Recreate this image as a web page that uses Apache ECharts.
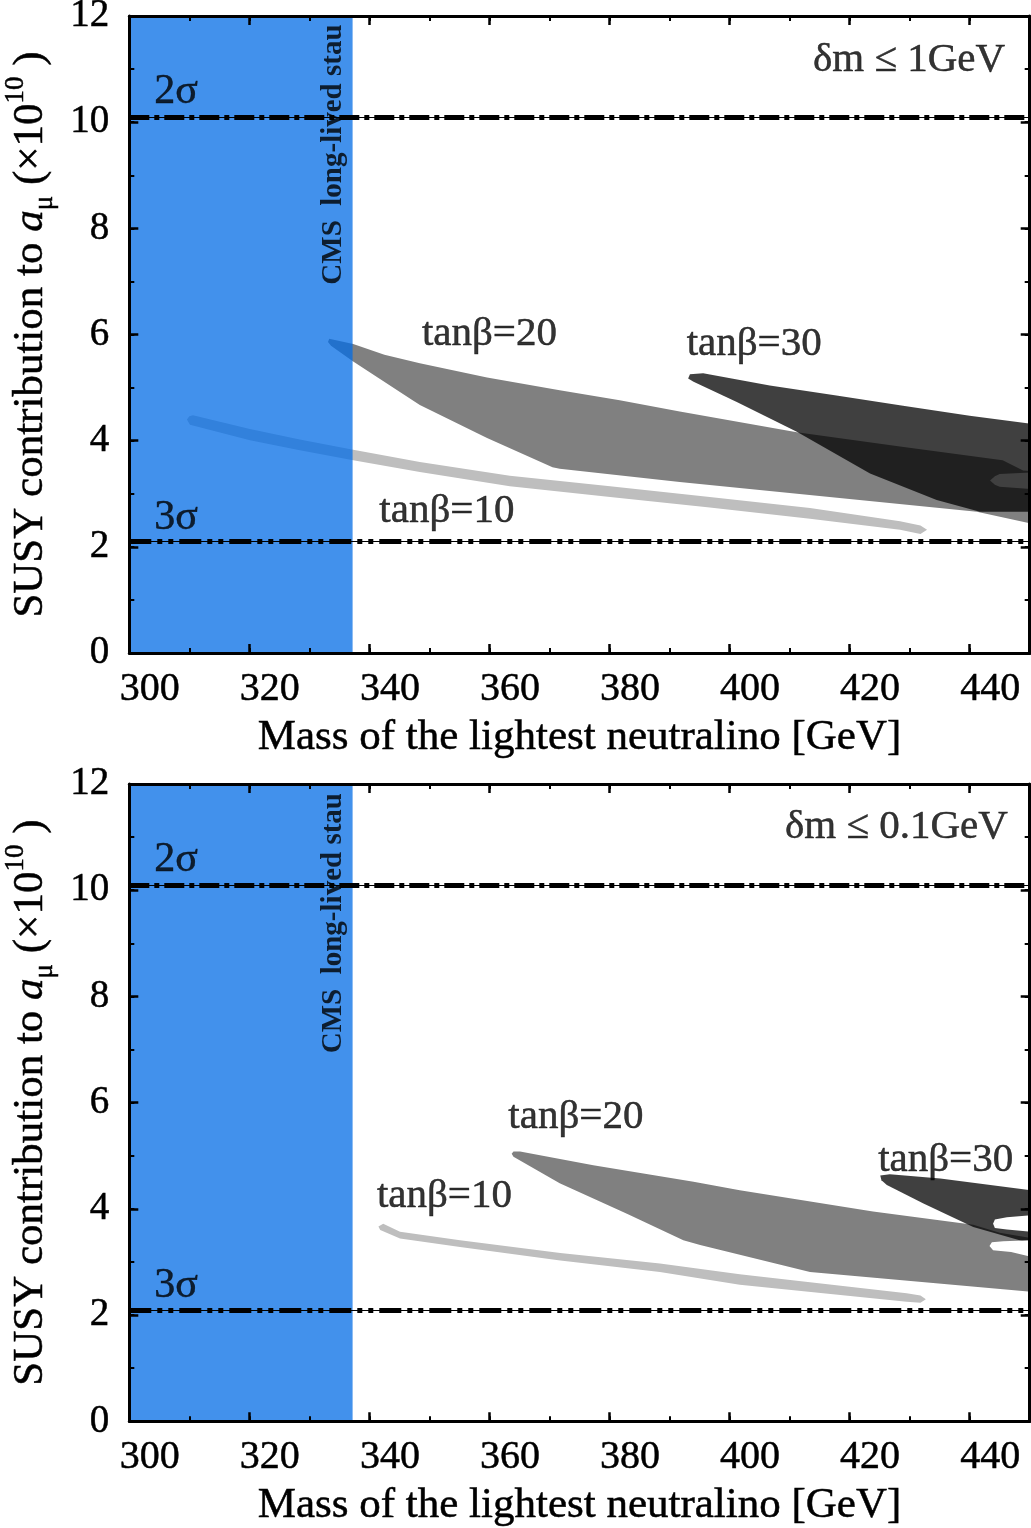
<!DOCTYPE html>
<html><head><meta charset="utf-8">
<script src="https://cdn.jsdelivr.net/npm/echarts@6/dist/echarts.min.js"></script>
<style>html,body{margin:0;padding:0;background:#fff}#c{width:1031px;height:1528px}</style>
</head><body><div id="c"></div>
<script>
// ---------------- data ----------------
const xRange = [300, 450];          // neutralino mass [GeV]
const xStep = 20, xMinorStep = 10;
const yRange = [0, 12];             // SUSY contribution to a_mu (x10^10)
const yStep = 2, yMinorStep = 1;
const sigmaLevels = [10.1, 2.1];
const sigmaNames = ['2σ', '3σ'];
const cmsLimit = 337.2;             // CMS long-lived stau bound
const panelTitles = ['δm ≤ 1GeV', 'δm ≤ 0.1GeV'];
const tanbNames = ['tanβ=10', 'tanβ=20', 'tanβ=30'];

// panel 1 (δm ≤ 1 GeV) regions: [mass, a_mu]
const p1Tanb10 = [[309.6,4.40],[310.0,4.46],[310.6,4.48],[320.1,4.22],[328.4,4.02],[337.3,3.83],[348.4,3.60],[363.4,3.34],[380.1,3.14],[396.7,2.94],[413.4,2.73],[428.4,2.48],[431.8,2.40],[432.9,2.32],[431.8,2.24],[428.4,2.32],[413.4,2.53],[396.7,2.74],[380.1,2.94],[363.4,3.14],[348.4,3.41],[337.3,3.63],[328.4,3.82],[320.1,4.01],[310.1,4.30]];
const p1Tanb20 = [[333.1,5.86],[333.3,5.92],[337.3,5.82],[342.5,5.62],[348.4,5.46],[359.6,5.19],[371.7,4.95],[381.7,4.76],[391.7,4.55],[411.2,4.16],[428.4,3.89],[445.5,3.63],[448.9,3.44],[452.5,3.41],[452.5,2.40],[450.2,2.44],[441.2,2.66],[391.7,3.22],[371.7,3.47],[370.5,3.50],[359.6,4.05],[348.4,4.67],[337.3,5.49],[333.6,5.79]];
const p1Tanb20Holes = [[[443.4,3.25],[444.2,3.33],[445.0,3.37],[450.2,3.40],[452.5,3.41],[452.5,3.09],[450.2,3.09],[445.0,3.13],[444.2,3.17]]];
const p1Tanb30 = [[393.4,5.25],[395.6,5.27],[406.7,5.04],[417.8,4.85],[428.9,4.66],[440.0,4.47],[450.2,4.32],[452.5,4.28],[452.5,2.66],[441.7,2.66],[434.5,2.88],[423.4,3.38],[411.2,4.17],[401.2,4.73],[394.0,5.11],[393.1,5.17]];
const p1Tanb30Holes = [];

// panel 2 (δm ≤ 0.1 GeV)
const p2Tanb10 = [[341.5,3.67],[342.3,3.72],[345.1,3.57],[355.1,3.41],[371.8,3.17],[388.4,2.97],[401.7,2.77],[415.6,2.59],[429.5,2.41],[431.8,2.37],[432.7,2.30],[431.8,2.23],[429.5,2.25],[415.6,2.41],[401.7,2.57],[388.4,2.81],[371.8,3.03],[355.1,3.28],[345.1,3.44],[341.8,3.60]];
const p2Tanb20 = [[363.7,5.04],[364.0,5.08],[365.1,5.08],[377.3,4.82],[394.0,4.51],[401.7,4.35],[423.9,3.95],[440.6,3.70],[445.0,3.55],[450.2,3.45],[452.5,3.41],[452.5,2.43],[450.2,2.44],[413.4,2.81],[395.1,3.32],[392.3,3.41],[382.9,3.91],[371.7,4.48],[364.0,4.98]];
const p2Tanb20Holes = [];
const p2Tanb30 = [[425.1,4.63],[426.7,4.65],[435.1,4.57],[450.2,4.35],[452.5,4.31],[452.5,3.30],[450.2,3.35],[440.6,3.66],[432.3,4.10],[426.2,4.45],[425.3,4.54]];
const p2Tanb30Holes = [
  [[443.9,3.72],[444.2,3.80],[446.2,3.84],[450.2,3.88],[452.5,3.90],[452.5,3.56],[450.2,3.57],[446.2,3.61],[444.2,3.64]],
  [[443.3,3.30],[443.7,3.37],[445.6,3.39],[450.2,3.41],[452.5,3.41],[452.5,3.09],[450.2,3.10],[446.9,3.19],[443.9,3.22]]
];

// annotation anchors [mass, a_mu]
const p1Notes = {sig:[[307.8,10.57],[307.8,2.55]], tanb:[[352.9,2.67],[360.0,6.01],[404.1,5.81]], title:[429.9,11.16], cms:[334.0,9.39]};
const p2Notes = {sig:[[307.8,10.57],[307.8,2.55]], tanb:[[352.5,4.23],[374.4,5.72],[436.0,4.91]], title:[427.8,11.18], cms:[334.0,9.38]};

// ---------------- styles ----------------
const FONT = "'Liberation Serif','Times New Roman','DejaVu Serif',serif";
const COL10 = '#bebebe', COL20 = '#808080', COL30 = 'rgba(0,0,0,0.75)', COLCMS = 'rgba(3,108,230,0.75)';
const dashStyles = [[20,5,5,5], [22,6,5,6,5,6]];
const grids = [
  {left:129.3, top:16, width:900.4, height:637, outerBoundsMode:'none', containLabel:false},
  {left:129.3, top:784, width:900.4, height:637.3, outerBoundsMode:'none', containLabel:false}
];
const INK = {textBorderColor:'#000', textBorderWidth:0.5};

function tickAxis(kind, g, pos, major, withLabels) {
  const isX = kind === 'x';
  const ax = {
    type:'value', gridIndex:g, position:pos,
    min: isX ? xRange[0] : yRange[0], max: isX ? xRange[1] : yRange[1],
    interval: isX ? (major ? xStep : xMinorStep) : (major ? yStep : yMinorStep),
    axisLine:{show: major, onZero:false, lineStyle:{color:'#000', width:3}},
    axisTick:{show:true, inside:true, length: major ? 9 : 5, lineStyle:{color:'#000', width: major ? 2.5 : 2}},
    splitLine:{show:false},
    axisLabel:{show:false},
    z: 10
  };
  if (withLabels) {
    if (isX) {
      ax.axisLabel = Object.assign({show:true, fontFamily:FONT, fontSize:40, color:'#000', margin:16, padding:[0,0,0,41], showMaxLabel:false}, INK);
      ax.name = 'Mass of the lightest neutralino [GeV]';
      ax.nameLocation = 'middle'; ax.nameGap = 63;
      ax.nameTextStyle = Object.assign({fontFamily:FONT, fontSize:43, color:'#000'}, INK);
    } else {
      ax.axisLabel = Object.assign({show:true, fontFamily:FONT, fontSize:39, color:'#000', margin:20, padding:[7,0,0,0]}, INK);
      ax.name = 'SUSY contribution to {it|a}{sub|μ} (×10{sup|10} )';
      ax.nameLocation = 'middle'; ax.nameGap = 67; ax.nameRotate = 90;
      ax.nameTextStyle = Object.assign({fontFamily:FONT, fontSize:43, color:'#000', lineHeight:56,
        rich:{
          it:Object.assign({fontFamily:FONT, fontSize:43, fontStyle:'italic', color:'#000', lineHeight:56}, INK),
          sub:Object.assign({fontFamily:FONT, fontSize:27, color:'#000', verticalAlign:'bottom', lineHeight:30}, INK),
          sup:Object.assign({fontFamily:FONT, fontSize:27, color:'#000', verticalAlign:'top', lineHeight:30}, INK)
        }}, INK);
    }
  }
  return ax;
}

const xAxes = [], yAxes = [];
[0,1].forEach(g => {
  xAxes.push(tickAxis('x', g, 'bottom', true, true));
  xAxes.push(tickAxis('x', g, 'bottom', false, false));
  xAxes.push(tickAxis('x', g, 'top', true, false));
  xAxes.push(tickAxis('x', g, 'top', false, false));
  yAxes.push(tickAxis('y', g, 'left', true, true));
  yAxes.push(tickAxis('y', g, 'left', false, false));
  yAxes.push(tickAxis('y', g, 'right', true, false));
  yAxes.push(tickAxis('y', g, 'right', false, false));
});

function polySeries(g, polys, fill, z) {
  return {
    type:'custom', xAxisIndex:g*4, yAxisIndex:g*4, z:z, clip:true, silent:true,
    data:[[xRange[0], yRange[0]]],
    renderItem: function(params, api) {
      return {type:'group', children: polys.map(poly => ({
        type:'polygon', shape:{points: poly.map(p => api.coord(p))}, style:{fill: fill}
      }))};
    }
  };
}

function panelSeries(g, t10, t20, t20holes, t30, t30holes, notes, title) {
  const s = [];
  s.push(polySeries(g, [t10], COL10, 2));
  s.push(polySeries(g, [t20], COL20, 3));
  if (t20holes.length) s.push(polySeries(g, t20holes, '#fff', 4));
  s.push(polySeries(g, [t30], COL30, 5));
  if (t30holes.length) s.push(polySeries(g, t30holes, '#fff', 6));
  s.push(polySeries(g, [[[xRange[0], yRange[0]], [cmsLimit, yRange[0]], [cmsLimit, yRange[1]], [xRange[0], yRange[1]]]], COLCMS, 7));
  s.push({
    type:'line', xAxisIndex:g*4, yAxisIndex:g*4, z:8, data:[], silent:true,
    markLine:{z:9, silent:true, symbol:['none','none'], label:{show:false}, animation:false,
      data: sigmaLevels.flatMap((v,i) => [
        {yAxis:v, lineStyle:{type:'solid', width:1.2, color:'#000'}},
        {yAxis:v, lineStyle:{type:dashStyles[i], width:5, color:'#000', cap:'butt'}}
      ])}
  });
  const txt = Object.assign({fontFamily:FONT, fontSize:41, color:'#000', position:'inside', align:'center', verticalAlign:'middle'}, INK);
  const items = [];
  notes.sig.forEach((p,i) => items.push({value:p, label:Object.assign({show:true, formatter:sigmaNames[i]}, txt, {fontSize:42})}));
  notes.tanb.forEach((p,i) => items.push({value:p, label:Object.assign({show:true, formatter:tanbNames[i]}, txt)}));
  items.push({value:notes.title, label:Object.assign({show:true, formatter:title}, txt)});
  items.push({value:notes.cms, label:Object.assign({}, txt, {show:true, formatter:'CMS  long-lived stau', fontSize:29, fontWeight:'bold', rotate:90, textBorderWidth:0})});
  s.push({type:'scatter', xAxisIndex:g*4, yAxisIndex:g*4, z:10, symbolSize:0, silent:true,
    itemStyle:{color:'transparent'}, data:items});
  return s;
}

const series = [].concat(
  panelSeries(0, p1Tanb10, p1Tanb20, p1Tanb20Holes, p1Tanb30, p1Tanb30Holes, p1Notes, panelTitles[0]),
  panelSeries(1, p2Tanb10, p2Tanb20, p2Tanb20Holes, p2Tanb30, p2Tanb30Holes, p2Notes, panelTitles[1])
);

const chart = echarts.init(document.getElementById('c'), null, {renderer:'canvas'});
chart.setOption({
  backgroundColor:'#fff', animation:false,
  grid: grids, xAxis: xAxes, yAxis: yAxes, series: series
});
</script></body></html>
